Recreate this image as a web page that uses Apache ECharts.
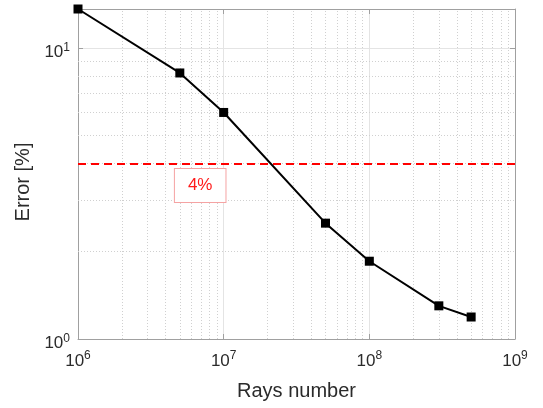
<!DOCTYPE html>
<html><head><meta charset="utf-8">
<script src="https://cdn.jsdelivr.net/npm/echarts@6/dist/echarts.min.js"></script>
<style>html,body{margin:0;padding:0;background:#fff}#c{width:543px;height:408px}</style>
</head><body><div id="c"></div>
<script>
const raysNumber = [1e6, 5e6, 1e7, 5e7, 1e8, 3e8, 5e8];
const errorPct = [13.6, 8.2, 6.0, 2.5, 1.85, 1.30, 1.19];
const thresholdPct = 4;
const thresholdLabel = '4%';
const xDecades = [1e6, 1e7, 1e8];
const yDecades = [1];
const minorMultipliers = [2, 3, 4, 5, 6, 7, 8, 9];
const xName = 'Rays number';
const yName = 'Error [%]';

const xMinor = [];
xDecades.forEach(d => minorMultipliers.forEach(m => xMinor.push(d * m)));
const yMinor = [];
yDecades.forEach(d => minorMultipliers.forEach(m => yMinor.push(d * m)));

const txt = '#2b2b2b';
const ff = 'Liberation Sans';
const fmt = v => '10{sup|' + Math.round(Math.log10(v)) + '}';
const rich = { sup: { fontSize: 12, padding: [0, 0, 10, 0], color: txt, fontFamily: ff } };

const chart = echarts.init(document.getElementById('c'), null, { renderer: 'canvas' });
const axisCommon = {
  axisLine: { show: true, lineStyle: { color: '#a0a0a0', width: 1 } },
  axisTick: { show: true, inside: true, length: 5, lineStyle: { color: '#a0a0a0' } },
  splitLine: { show: true, lineStyle: { color: '#e4e4e4', width: 1 } },
};
chart.setOption({
  animation: false,
  grid: { left: 78, right: 28, top: 9, bottom: 69, show: false },
  xAxis: [
    Object.assign({}, axisCommon, {
      type: 'log', logBase: 10, min: 1e6, max: 1e9,
      name: xName, nameLocation: 'middle', nameGap: 42,
      nameTextStyle: { fontSize: 20, color: txt, fontFamily: ff },
      axisLabel: { formatter: fmt, rich: rich, fontSize: 17, color: txt, fontFamily: ff, margin: 11 },
    }),
    {
      type: 'log', logBase: 10, min: 1e6, max: 1e9, position: 'top',
      axisLine: { show: true, lineStyle: { color: '#a0a0a0' } },
      axisTick: { show: true, inside: true, length: 5, lineStyle: { color: '#a0a0a0' } },
      axisLabel: { show: false }, splitLine: { show: false }
    }
  ],
  yAxis: [
    Object.assign({}, axisCommon, {
      type: 'log', logBase: 10, min: 1, max: 13.6,
      name: yName, nameLocation: 'middle', nameGap: 39,
      nameTextStyle: { fontSize: 20, color: txt, fontFamily: ff, padding: [0, 16, 0, 0] },
      axisLabel: { formatter: fmt, rich: rich, fontSize: 17, color: txt, fontFamily: ff, margin: 8, showMaxLabel: false, padding: [9, 0, 0, 0] },
    }),
    {
      type: 'log', logBase: 10, min: 1, max: 13.6, position: 'right',
      axisLine: { show: true, lineStyle: { color: '#a0a0a0' } },
      axisTick: { show: true, inside: true, length: 5, lineStyle: { color: '#a0a0a0' } },
      axisLabel: { show: false }, splitLine: { show: false }
    }
  ],
  series: [
    {
      type: 'line', data: [], z: 1, silent: true,
      markLine: {
        silent: true, symbol: ['none', 'none'], label: { show: false },
        lineStyle: { color: '#d0d0d0', type: [1, 2], width: 1 },
        data: xMinor.map(v => ({ xAxis: v })).concat(yMinor.map(v => ({ yAxis: v })))
      }
    },
    {
      type: 'line', data: [], z: 3, silent: true,
      markLine: {
        silent: true, symbol: ['none', 'none'], label: { show: false },
        lineStyle: { color: '#ff0000', type: [8, 5], width: 2 },
        data: [{ yAxis: thresholdPct }]
      },
      markPoint: {
        silent: true, symbol: 'rect', symbolSize: 0,
        data: [{ coord: [6.9e6, 3.37] }],
        label: {
          show: true, formatter: thresholdLabel, position: 'inside',
          color: '#ff1a1a', fontSize: 17, fontFamily: ff,
          borderColor: '#f5a3a3', borderWidth: 1, padding: [8, 13, 8, 13], backgroundColor: '#fff'
        }
      }
    },
    {
      type: 'line', z: 5,
      data: raysNumber.map((x, i) => [x, errorPct[i]]),
      symbol: 'rect', symbolSize: 9, showSymbol: true,
      lineStyle: { color: '#000', width: 2 },
      itemStyle: { color: '#000' }
    }
  ]
});
</script></body></html>
